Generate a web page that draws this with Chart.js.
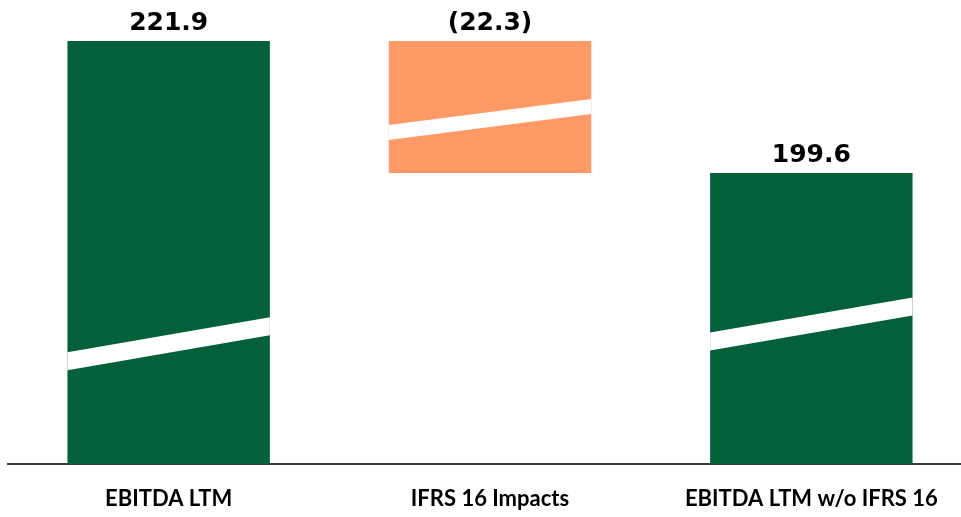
<!DOCTYPE html>
<html>
<head>
<meta charset="utf-8">
<script src="https://cdn.jsdelivr.net/npm/chart.js@4/dist/chart.umd.min.js"></script>
<style>
  html, body { margin: 0; padding: 0; background: #fff; overflow: hidden; }
  #wrap { width: 961px; height: 517px; overflow: hidden; }
</style>
</head>
<body>
<div id="wrap"><canvas id="chart" width="975" height="517"></canvas></div>
<script>
// Datos del puente EBITDA
const categories = ['EBITDA LTM', 'IFRS 16 Impacts', 'EBITDA LTM w/o IFRS 16'];
const ebitdaLtm = 221.9;
const ifrsImpact = -22.3;
const ebitdaNoIfrs = 199.6;

const GREEN = '#03603A';
const ORANGE = '#FF9966';

// Eje truncado (la ruptura se marca con las franjas blancas)
const Y_MIN = 150.44;
const Y_MAX = 228.83;

// Franjas de ruptura: posición relativa desde arriba de la barra, subida y grosor
const breaks = [
    { frac: 0.757, rise: 35, h: 18 },
    { frac: 0.693, rise: 26, h: 15 },
    { frac: 0.579, rise: 35, h: 18 }
];

const barData = [ebitdaLtm, [ebitdaLtm + ifrsImpact, ebitdaLtm], ebitdaNoIfrs];
const labelsTxt = [ebitdaLtm, ifrsImpact, ebitdaNoIfrs].map(v =>
    v < 0 ? '(' + Math.abs(v).toFixed(1) + ')' : v.toFixed(1));

const overlay = {
    id: 'overlay',
    afterDatasetsDraw(chart) {
        const ctx = chart.ctx;
        const area = chart.chartArea;
        const meta = chart.getDatasetMeta(0);
        meta.data.forEach((el, i) => {
            // la base puede quedar fuera del área visible (eje truncado)
            const top = Math.max(area.top, Math.min(el.y, el.base));
            const bottom = Math.min(area.bottom, Math.max(el.y, el.base));
            const left = el.x - el.width / 2;
            const right = el.x + el.width / 2;
            const b = breaks[i];
            const ly = top + b.frac * (bottom - top);
            const ry = ly - b.rise;
            ctx.save();
            ctx.fillStyle = '#ffffff';
            ctx.beginPath();
            ctx.moveTo(left, ly - b.h / 2);
            ctx.lineTo(right, ry - b.h / 2);
            ctx.lineTo(right, ry + b.h / 2);
            ctx.lineTo(left, ly + b.h / 2);
            ctx.closePath();
            ctx.fill();

            ctx.fillStyle = '#000';
            ctx.font = 'bold 25px "DejaVu Sans"';
            ctx.textAlign = 'center';
            ctx.textBaseline = 'alphabetic';
            ctx.fillText(labelsTxt[i], el.x, top - 11);
            ctx.restore();
        });
    }
};

new Chart(document.getElementById('chart'), {
    type: 'bar',
    plugins: [overlay],
    data: {
        labels: categories,
        datasets: [{
            data: barData,
            backgroundColor: [GREEN, ORANGE, GREEN],
            borderWidth: 0,
            categoryPercentage: 1,
            barPercentage: 0.63
        }]
    },
    options: {
        responsive: false,
        animation: false,
        layout: { padding: { left: 8, right: 3, top: 0, bottom: 0 } },
        plugins: { legend: { display: false }, tooltip: { enabled: false } },
        scales: {
            x: {
                grid: { display: false, drawTicks: false },
                border: { display: true, color: '#3a3a3a', width: 2 },
                ticks: {
                    color: '#000',
                    padding: 22,
                    maxRotation: 0,
                    font: { family: 'Lato', weight: 'bold', size: 22 }
                },
                afterFit(scale) { scale.height = 53; }
            },
            y: { display: false, min: Y_MIN, max: Y_MAX }
        }
    }
});
</script>
</body>
</html>
